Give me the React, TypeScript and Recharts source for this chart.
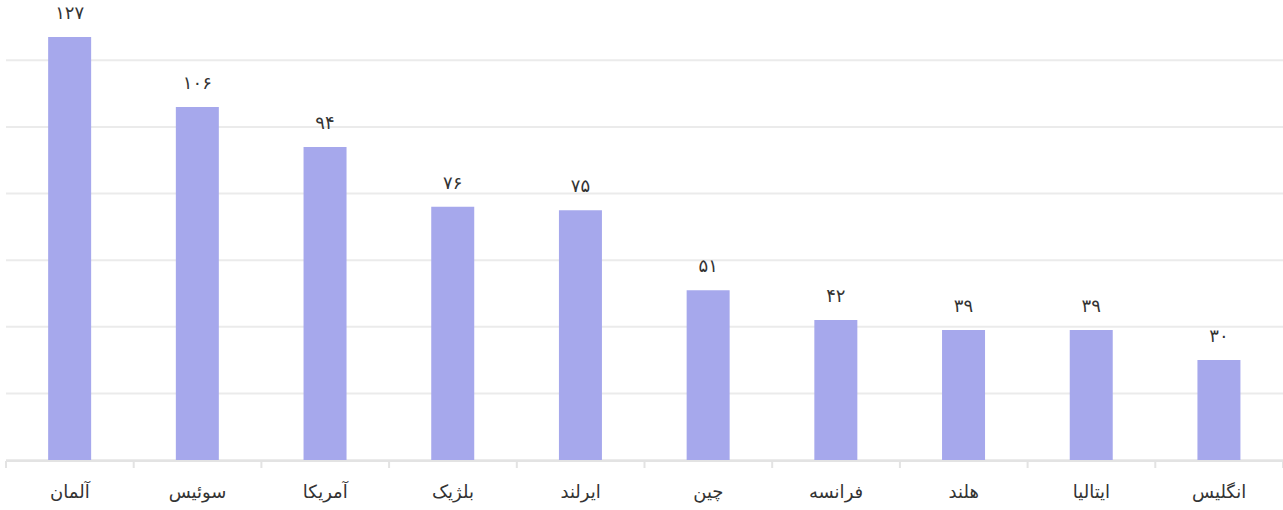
import { Bar, BarChart, CartesianGrid, LabelList, XAxis, YAxis } from "recharts";

const countries = ["آلمان", "سوئیس", "آمریکا", "بلژیک", "ایرلند", "چین", "فرانسه", "هلند", "ایتالیا", "انگلیس"];
const counts = [127, 106, 94, 76, 75, 51, 42, 39, 39, 30];
const yTicks = [0, 20, 40, 60, 80, 100, 120];
// tick marks sit between the categories
const boundaryTicks = [0, 1, 2, 3, 4, 5, 6, 7, 8, 9, 10];

const data = countries.map((name, i) => ({ name, value: counts[i], edge: i }));

const toPersian = (v: number | string) =>
  String(v).replace(/[0-9]/g, (d) => "۰۱۲۳۴۵۶۷۸۹"[Number(d)]);

const font = "'DejaVu Sans', sans-serif";

export default function App() {
  return (
    <div style={{ position: "absolute", left: 0, top: 0, background: "#fff" }}>
      <BarChart
        width={1283}
        height={510}
        data={data}
        margin={{ top: 37, right: 0, left: 6, bottom: 0 }}
        barCategoryGap="33%"
      >
        <CartesianGrid vertical={false} stroke="#ebebeb" strokeWidth={2} syncWithTicks />
        <YAxis hide domain={[0, 127]} ticks={yTicks} />
        <XAxis
          xAxisId="edges"
          dataKey="edge"
          type="number"
          domain={[0, 10]}
          ticks={boundaryTicks}
          allowDataOverflow
          height={49}
          stroke="#e3e3e3"
          strokeWidth={2}
          tickSize={7}
          tickFormatter={() => ""}
          interval={0}
        />
        <XAxis
          dataKey="name"
          height={1}
          axisLine={false}
          tickLine={false}
          interval={0}
          tick={{ fill: "#333", fontSize: 18, fontFamily: font, dy: 17 }}
        />
        <Bar dataKey="value" fill="#a6a8ec" isAnimationActive={false}>
          <LabelList
            dataKey="value"
            position="top"
            offset={18}
            formatter={(v: number) => toPersian(v)}
            style={{ fill: "#333", fontSize: 18, fontFamily: font }}
          />
        </Bar>
      </BarChart>
    </div>
  );
}
